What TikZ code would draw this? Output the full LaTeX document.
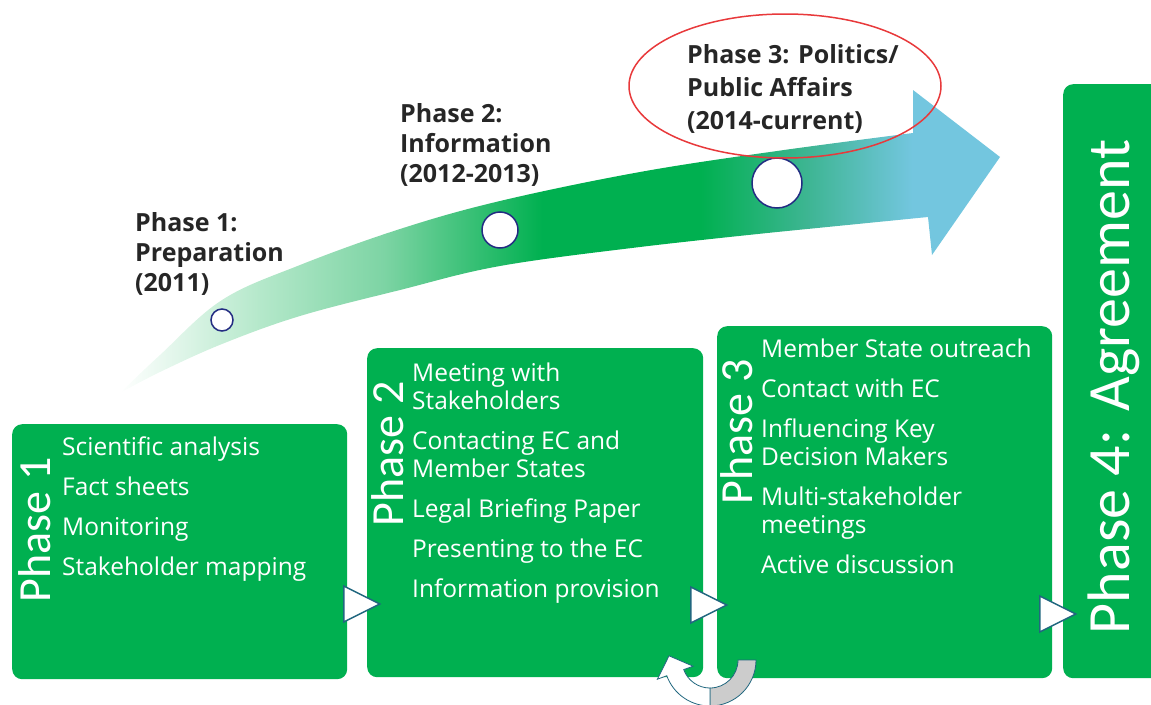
\documentclass[tikz,border=0pt]{standalone}
\usepackage{fontspec}
\setmainfont{Open Sans}
\newfontfamily\phasefont{Carlito}
\usetikzlibrary{shapes, positioning, calc}
\definecolor{boxGreen}{HTML}{00B050}
\definecolor{edgeColor}{HTML}{21677F}
\definecolor{dotColor}{HTML}{232C82}
\definecolor{ringRed}{HTML}{E8393B}
\definecolor{labelGray}{HTML}{262626}
\definecolor{bandPale}{HTML}{B4E8CA}
\definecolor{bandMid}{HTML}{7DD4A4}
\definecolor{bandTeal}{HTML}{3DB592}
\definecolor{bandBlue}{HTML}{73C6DF}
\pgfdeclarehorizontalshading{bandShade}{100bp}{color(0bp)=(white);
  color(25bp)=(white); color(33bp)=(bandPale); color(40bp)=(bandMid);
  color(49bp)=(boxGreen); color(58bp)=(boxGreen); color(64bp)=(bandTeal);
  color(70bp)=(bandBlue); color(100bp)=(bandBlue)}
\tikzstyle{phasebox}=[rectangle, rounded corners=10pt, fill=boxGreen,
inner sep=0pt, anchor=north west]
\tikzstyle{phasetitle}=[rotate=90, anchor=base west, inner sep=0pt, text=white,
font=\phasefont\fontsize{46}{46}\selectfont]
\tikzstyle{itemlist}=[align=left, inner sep=0pt, text=white,
font=\fontsize{24.5}{28}\selectfont]
\tikzstyle{milestone}=[align=left, inner sep=0pt, text=labelGray, anchor=north west,
font=\bfseries\fontsize{25}{30}\selectfont]
\tikzstyle{dot}=[circle, draw=dotColor, line width=1.5pt, fill=white, inner sep=0pt]
\tikzstyle{pointer}=[isosceles triangle, isosceles triangle stretches,
minimum width=36pt, minimum height=36pt, inner sep=0pt, draw=edgeColor,
line width=1.5pt, fill=white, anchor=west]
\tikzstyle{ring}=[ellipse, draw=ringRed, line width=1.5pt, minimum width=312pt,
minimum height=144pt]
\tikzstyle{uturn}=[draw=edgeColor, line width=0.8pt]

\begin{document}
\begin{tikzpicture}[x=1pt, y=-1pt]
  \useasboundingbox (0,0) rectangle (1151,704);
  % timeline
  \shade[shading=bandShade] plot[smooth, tension=0.6] coordinates {(120,393)
    (160,355) (222,300) (300,265) (400,229) (500,201) (640,172) (777,151)
    (913,133)} -- (913,90) -- (1000,157) -- (932,255) -- (928,217)
    -- plot[smooth, tension=0.6] coordinates {(777,232) (640,247) (500,266)
    (400,290) (300,316) (222,344) (160,372) (120,393)} -- cycle;
  \node(dotA) [dot, minimum size=22pt] at (222,320) {};
  \node(dotB) [dot, minimum size=36pt] at (500,230) {};
  \node(dotC) [dot, minimum size=50pt] at (777,183) {};
  \node(labelA) [milestone] at (135,212) {Phase 1:\\Preparation\\(2011)};
  \node(labelB) [milestone] at (400,103) {Phase 2:\\Information\\(2012-2013)};
  \node(labelC) [milestone, font=\bfseries\fontsize{25}{33}\selectfont] at (687,44)
    {Phase 3: Politics/\\Public Affairs\\(2014-current)};
  \node(ring) [ring] at (785,86) {};

  % phases
  \node(phaseA) [phasebox, minimum width=335pt, minimum height=255pt] at (12,424) {};
  \node(phaseB) [phasebox, minimum width=336pt, minimum height=329pt] at (367,348) {};
  \node(phaseC) [phasebox, minimum width=335pt, minimum height=352pt] at (717,326) {};
  \node(phaseD) [phasebox, minimum width=130pt, minimum height=594pt] at (1063,84) {};
  \node(titleA) [phasetitle, above right=77pt and 38pt of phaseA.south west,
    anchor=base west] {Phase 1};
  \node(titleB) [phasetitle, above right=151pt and 36pt of phaseB.south west,
    anchor=base west] {Phase 2};
  \node(titleC) [phasetitle, above right=174pt and 35pt of phaseC.south west,
    anchor=base west] {Phase 3};
  \node(titleD) [phasetitle, font=\phasefont\fontsize{60}{60}\selectfont,
    above right=44pt and 66pt of phaseD.south west, anchor=base west]
    {Phase 4: Agreement};
  \node(itemsA) [itemlist, below right=13pt and 50pt of phaseA.north west]
    {Scientific analysis\\[12pt]Fact sheets\\[12pt]Monitoring\\[12pt]Stakeholder mapping};
  \node(itemsB) [itemlist, below right=15pt and 45pt of phaseB.north west]
    {Meeting with\\Stakeholders\\[12pt]Contacting EC and\\Member States\\[12pt]Legal
    Briefing Paper\\[12pt]Presenting to the EC\\[12pt]Information provision};
  \node(itemsC) [itemlist, below right=13pt and 44pt of phaseC.north west]
    {Member State outreach\\[12pt]Contact with EC\\[12pt]Influencing Key\\Decision
    Makers\\[12pt]Multi-stakeholder\\meetings\\[12pt]Active discussion};

  % steps between phases
  \node(stepA) [pointer] at (343,604) {};
  \node(stepB) [pointer] at (690,605) {};
  \node(stepC) [pointer] at (1039,614) {};

  % loop back
  \filldraw[uturn, fill=black!20] (756,660) arc[start angle=0, end angle=90, radius=46]
    -- (710,688) arc[start angle=90, end angle=0, radius=28] -- cycle;
  \filldraw[uturn, fill=white] (710,706) arc[start angle=90, end angle=160, radius=46]
    -- (657.4,679.2) -- (669,655.8) -- (693.1,666.2) -- (683.7,669.6)
    arc[start angle=160, end angle=90, radius=28] -- cycle;
\end{tikzpicture}
\end{document}
